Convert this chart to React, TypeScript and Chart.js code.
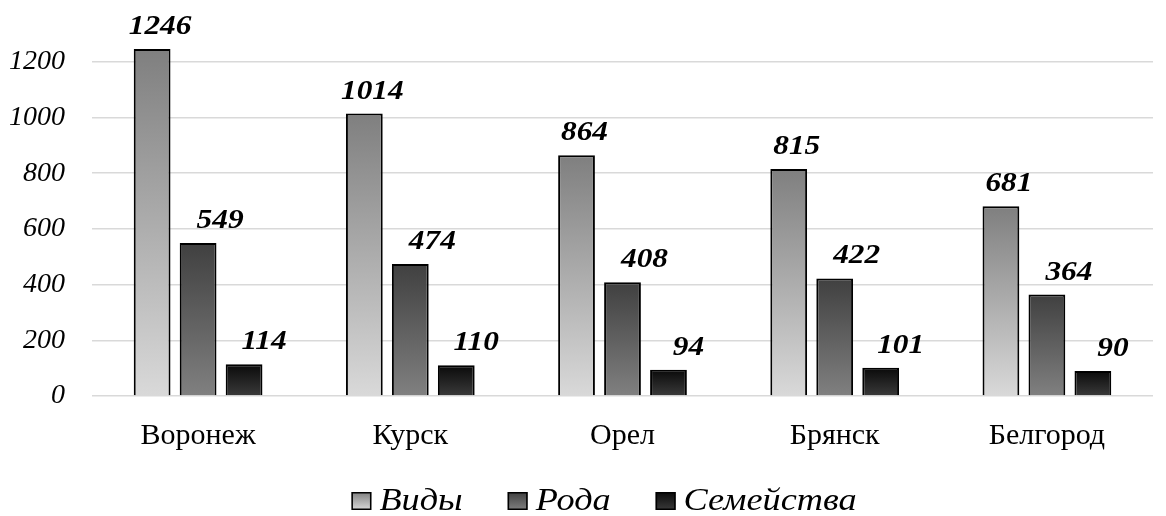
import React, { useEffect, useRef } from "react";
import { Chart, registerables } from "chart.js";

Chart.register(...registerables);

const regions = ["Воронеж", "Курск", "Орел", "Брянск", "Белгород"];
const seriesNames = ["Виды", "Рода", "Семейства"];
const speciesCounts = [1246, 1014, 864, 815, 681];
const genusCounts = [549, 474, 408, 422, 364];
const familyCounts = [114, 110, 94, 101, 90];
const yTickValues = [0, 200, 400, 600, 800, 1000, 1200];

// top / bottom shades of each series' vertical gradient
const shades: [string, string][] = [
  ["#7f7f7f", "#d9d9d9"],
  ["#404040", "#808080"],
  ["#0a0a0a", "#3a3a3a"],
];
// horizontal shift of the value labels per series
const labelShift = [8, 22, 20];

const SERIF = "'Liberation Serif', 'Times New Roman', serif";

function barGradient(seriesIndex: number) {
  return (context: any) => {
    const chart = context.chart;
    const y = chart.scales?.y;
    const raw = context.raw;
    if (!y || typeof raw !== "number") return shades[seriesIndex][1];
    const top = y.getPixelForValue(raw);
    const bottom = y.getPixelForValue(0);
    if (!isFinite(top) || !isFinite(bottom) || top === bottom) return shades[seriesIndex][1];
    const g = chart.ctx.createLinearGradient(0, top, 0, bottom);
    g.addColorStop(0, shades[seriesIndex][0]);
    g.addColorStop(1, shades[seriesIndex][1]);
    return g;
  };
}

// draws text slightly widened horizontally around (x, y)
function wideText(ctx: CanvasRenderingContext2D, text: string, x: number, y: number, sx: number) {
  ctx.save();
  ctx.translate(x, y);
  ctx.scale(sx, 1);
  ctx.fillText(text, 0, 0);
  ctx.restore();
}

const valueLabels = {
  id: "valueLabels",
  afterDatasetsDraw(chart: any) {
    const ctx = chart.ctx;
    ctx.save();
    ctx.font = `italic bold 28px ${SERIF}`;
    ctx.fillStyle = "#000";
    ctx.textAlign = "center";
    ctx.textBaseline = "alphabetic";
    chart.data.datasets.forEach((ds: any, di: number) => {
      const meta = chart.getDatasetMeta(di);
      meta.data.forEach((bar: any, i: number) => {
        wideText(ctx, String(ds.data[i]), bar.x + labelShift[di], bar.y - 15, 1.12);
      });
    });
    ctx.restore();
  },
};

const bottomLegend = {
  id: "bottomLegend",
  afterDraw(chart: any) {
    const ctx = chart.ctx;
    ctx.save();
    ctx.font = `italic 31px ${SERIF}`;
    ctx.textBaseline = "alphabetic";
    ctx.textAlign = "left";
    const sx = 1.17;
    const boxW = 20;
    const boxH = 18;
    const gap = 8;
    const spacing = 45;
    const widths = seriesNames.map((n) => ctx.measureText(n).width * sx);
    const total =
      widths.reduce((a, w) => a + boxW + gap + w, 0) + spacing * (seriesNames.length - 1);
    let x = 604 - total / 2;
    const baseline = 510;
    const boxTop = 492;
    seriesNames.forEach((name, i) => {
      const g = ctx.createLinearGradient(0, boxTop, 0, boxTop + boxH);
      g.addColorStop(0, shades[i][0]);
      g.addColorStop(1, shades[i][1]);
      ctx.fillStyle = g;
      ctx.fillRect(x, boxTop, boxW, boxH);
      ctx.strokeStyle = "#000";
      ctx.lineWidth = 1.5;
      ctx.strokeRect(x + 0.75, boxTop + 0.75, boxW - 1.5, boxH - 1.5);
      ctx.fillStyle = "#000";
      wideText(ctx, name, x + boxW + gap, baseline, sx);
      x += boxW + gap + widths[i] + spacing;
    });
    ctx.restore();
  },
};

export default function App() {
  const canvasRef = useRef<HTMLCanvasElement | null>(null);

  useEffect(() => {
    if (!canvasRef.current) return;
    const seriesData = [speciesCounts, genusCounts, familyCounts];
    const chart = new Chart(canvasRef.current, {
      type: "bar",
      data: {
        labels: regions,
        datasets: seriesNames.map((name, i) => ({
          label: name,
          data: seriesData[i],
          backgroundColor: barGradient(i),
          borderColor: "#000",
          borderWidth: 2,
          categoryPercentage: 0.65,
          barPercentage: 0.8,
        })),
      },
      options: {
        animation: false,
        responsive: false,
        layout: { padding: { top: 6, right: 13, left: 0, bottom: 0 } },
        plugins: {
          legend: { display: false },
          tooltip: { enabled: false },
        },
        scales: {
          x: {
            grid: { display: false },
            border: { display: false },
            ticks: {
              color: "#000",
              font: { family: SERIF, size: 30 },
              padding: 14,
            },
            afterFit(scale: any) {
              scale.height = 120;
            },
          },
          y: {
            min: 0,
            max: 1400,
            border: { display: false },
            grid: { color: "#d9d9d9", lineWidth: 1.5, drawTicks: false },
            afterBuildTicks(scale: any) {
              scale.ticks = yTickValues.map((v) => ({ value: v }));
            },
            ticks: {
              color: "#000",
              font: { family: SERIF, size: 28, style: "italic" },
              padding: 27,
              callback: (v: any) => String(v),
            },
            afterFit(scale: any) {
              scale.width = 92;
              scale.paddingTop = 0;
              scale.paddingBottom = 0;
            },
          },
        },
      },
      plugins: [valueLabels, bottomLegend],
    });
    return () => chart.destroy();
  }, []);

  return (
    <div style={{ position: "fixed", left: 0, top: 0, width: 1166, height: 516, background: "#fff" }}>
      <canvas ref={canvasRef} width={1166} height={516} />
    </div>
  );
}
